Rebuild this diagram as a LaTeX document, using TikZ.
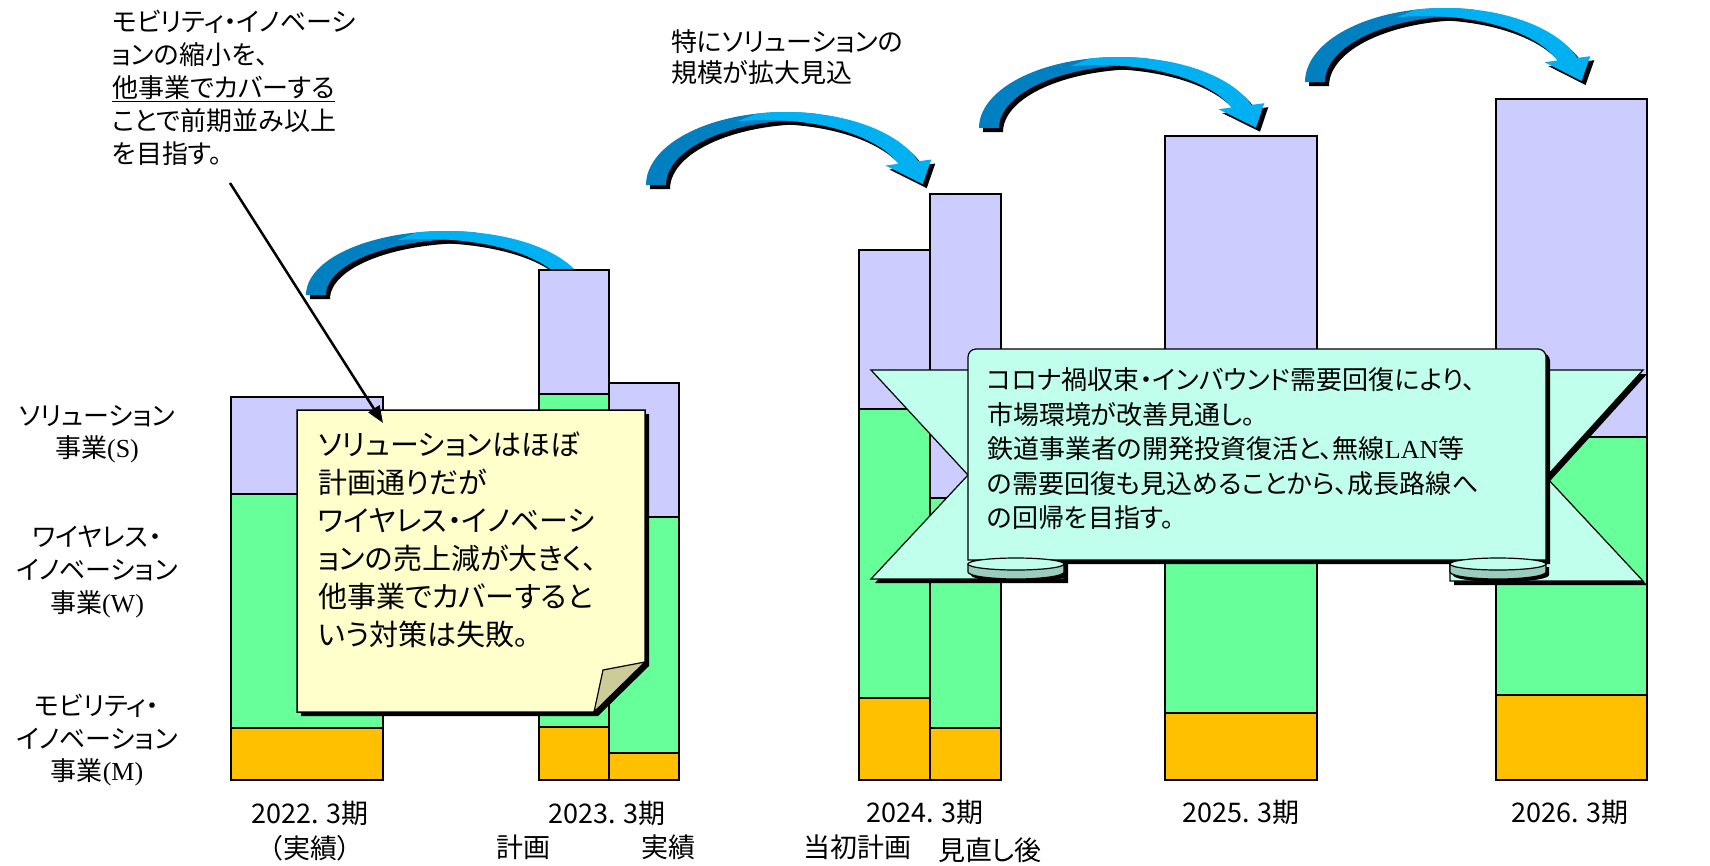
\documentclass[tikz,border=0pt]{standalone}
\usepackage{fontspec}
\setmainfont{Noto Sans CJK JP}[RawFeature={+palt}]
\newfontfamily\serifL{Liberation Serif}
\usetikzlibrary{arrows.meta}
\definecolor{colS}{HTML}{CCCCFF}
\definecolor{colW}{HTML}{66FF99}
\definecolor{colM}{HTML}{FFC000}
\definecolor{noteY}{HTML}{FFFFCC}
\definecolor{foldC}{HTML}{CCCC99}
\definecolor{ribC}{HTML}{BFFFEB}
\definecolor{curlC}{HTML}{9BCDBE}
\definecolor{arrL}{HTML}{00B0F0}
\definecolor{arrD}{HTML}{0080C0}

\newcommand{\stackbar}[6]{%
 \filldraw[barline,fill=colS] (#1,#3) rectangle (#2,#4);
 \filldraw[barline,fill=colW] (#1,#4) rectangle (#2,#5);
 \filldraw[barline,fill=colM] (#1,#5) rectangle (#2,#6);}

\newcommand{\cbshape}[2]{%
 \fill[#1] plot[domain=180:78,samples=40] ({\cbCx+\cbRx*cos(\x)},{\cbCy-\cbRy*sin(\x)})
   -- plot[domain=78:180,samples=40] ({\cbCx+\cbW+\cbRx*cos(\x)},{\cbCy-(\cbRy-8)*sin(\x)}) -- cycle;
 \fill[#2] plot[domain=102:\cbTe,samples=40] ({\cbCx+\cbRx*cos(\x)},{\cbCy-\cbRy*sin(\x)})
   -- (\cbAx,\cbAy) -- (\cbPx,\cbPy) -- (\cbBx,\cbBy) -- (\cbIx,\cbIy)
   -- plot[domain=\cbTe:102,samples=40] ({\cbCx-\cbW+\cbRx*cos(\x)},{\cbCy-(\cbRy-8)*sin(\x)}) -- cycle;}

\newcommand{\curvedblue}[4]{%
 \pgfmathsetmacro\cbCx{#1}%
 \pgfmathsetmacro\cbCy{#2}%
 \pgfmathsetmacro\cbRy{#3}%
 \pgfmathsetmacro\cbTe{#4}%
 \def\cbRx{140}\def\cbW{20}%
 \pgfmathsetmacro\cbOx{\cbCx+\cbRx*cos(\cbTe)}%
 \pgfmathsetmacro\cbOy{\cbCy-\cbRy*sin(\cbTe)}%
 \pgfmathsetmacro\cbIx{\cbCx-\cbW+\cbRx*cos(\cbTe)}%
 \pgfmathsetmacro\cbIy{\cbCy-(\cbRy-8)*sin(\cbTe)}%
 \pgfmathsetmacro\cbMx{(\cbOx+\cbIx)/2}%
 \pgfmathsetmacro\cbMy{(\cbOy+\cbIy)/2}%
 \pgfmathsetmacro\cbTx{\cbRx*sin(\cbTe)}%
 \pgfmathsetmacro\cbTy{\cbRy*cos(\cbTe)}%
 \pgfmathsetmacro\cbTn{sqrt(\cbTx*\cbTx+\cbTy*\cbTy)}%
 \pgfmathsetmacro\cbPx{\cbMx+26*\cbTx/\cbTn}%
 \pgfmathsetmacro\cbPy{\cbMy+26*\cbTy/\cbTn}%
 \pgfmathsetmacro\cbDx{\cbOx-\cbIx}%
 \pgfmathsetmacro\cbDy{\cbOy-\cbIy}%
 \pgfmathsetmacro\cbDn{sqrt(\cbDx*\cbDx+\cbDy*\cbDy)}%
 \pgfmathsetmacro\cbAx{\cbOx+13*\cbDx/\cbDn}%
 \pgfmathsetmacro\cbAy{\cbOy+13*\cbDy/\cbDn}%
 \pgfmathsetmacro\cbBx{\cbIx-13*\cbDx/\cbDn}%
 \pgfmathsetmacro\cbBy{\cbIy-13*\cbDy/\cbDn}%
 \cbshape{black,shift={(4,4)}}{black,shift={(4,4)}}%
 \cbshape{arrD}{arrL}}

\begin{document}
\begin{tikzpicture}[x=1pt,y=-1pt,
  barline/.style={draw=black,line width=1.5pt},
  outl/.style={draw=black,line width=1.5pt},
  txt/.style={inner sep=0pt,outer sep=0pt,text=black}]
\fill[white] (0,0) rectangle (1710,865);
\useasboundingbox (0,0) rectangle (1710,865);

% curved arrows (behind bars)
\curvedblue{446}{295}{64}{18}
\curvedblue{786}{185}{73}{19}
\curvedblue{1119}{128}{71}{19}
\curvedblue{1445}{82}{74}{19}

% bars
\stackbar{231}{383}{397}{494}{728}{780}
\stackbar{539}{609}{270}{394}{727}{780}
\stackbar{609}{679}{383}{517}{753}{780}
\stackbar{859}{930}{250}{409}{698}{780}
\stackbar{930}{1001}{194}{498}{728}{780}
\stackbar{1165}{1317}{136}{450}{713}{780}
\stackbar{1496}{1647}{99}{437}{695}{780}

% sticky note
\fill[black,shift={(4,4)}] (297,410) -- (645,410) -- (645,662) -- (594,712) -- (297,712) -- cycle;
\filldraw[outl,fill=noteY] (297,410) -- (645,410) -- (645,662) -- (594,712) -- (297,712) -- cycle;
\filldraw[outl,line width=1.2pt,fill=foldC] (594,712) -- (603,670) -- (645,662) -- cycle;
\node[txt,anchor=west,align=left,font=\fontsize{29}{38}\selectfont] (noteT) at (318,540)
 {ソリューションはほぼ\\計画通りだが\\ワイヤレス・イノベーシ\\ョンの売上減が大きく、\\他事業でカバーすると\\いう対策は失敗。};

% top-left annotation and leader
\node[txt,anchor=west,align=left,font=\fontsize{26}{33}\selectfont] (annoL) at (112,88)
 {モビリティ・イノベーシ\\ョンの縮小を、\\\underline{他事業でカバーする}\\ことで前期並み以上\\を目指す。};
\coordinate (lstart) at (230,183);
\coordinate (ltip) at (383,423);
\draw[line width=2.5pt,-{Triangle[length=17pt,width=13pt]}] (lstart) -- (ltip);

% ribbon
\fill[black,shift={(4,4)}] (871,370) -- (1064,370) -- (1064,579) -- (871,579) -- (968,475) -- cycle;
\fill[black,shift={(4,4)}] (1643,370) -- (1450,370) -- (1450,581) -- (1643,581) -- (1546,477) -- cycle;
\filldraw[draw=black,line width=1.2pt,fill=ribC] (871,370) -- (1064,370) -- (1064,579) -- (871,579) -- (968,475) -- cycle;
\filldraw[draw=black,line width=1.2pt,fill=ribC] (1643,370) -- (1450,370) -- (1450,581) -- (1643,581) -- (1546,477) -- cycle;
\fill[black,shift={(4,4)}] (968,560) [rounded corners=8]-- (968,349) -- (1546,349) [sharp corners]-- (1546,560) -- cycle;
\filldraw[draw=black,line width=1.2pt,fill=ribC] (968,560) [rounded corners=8]-- (968,349) -- (1546,349) [sharp corners]-- (1546,560) -- cycle;
% curls
\fill[black,shift={(3,3)}] (968,564) -- (968,572) arc[start angle=180,end angle=0,x radius=48,y radius=7] -- (1064,564) -- cycle;
\filldraw[draw=black,line width=1.2pt,fill=curlC] (968,564) -- (968,572) arc[start angle=180,end angle=0,x radius=48,y radius=7] -- (1064,564) -- cycle;
\filldraw[draw=black,line width=1.2pt,fill=ribC] (1016,564) ellipse[x radius=48,y radius=6];
\fill[black,shift={(3,3)}] (1450,564) -- (1450,572) arc[start angle=180,end angle=0,x radius=48,y radius=7] -- (1546,564) -- cycle;
\filldraw[draw=black,line width=1.2pt,fill=curlC] (1450,564) -- (1450,572) arc[start angle=180,end angle=0,x radius=48,y radius=7] -- (1546,564) -- cycle;
\filldraw[draw=black,line width=1.2pt,fill=ribC] (1498,564) ellipse[x radius=48,y radius=6];
\node[txt,anchor=west,align=left,font=\fontsize{26}{34.5}\selectfont] (ribT) at (987,449)
 {コロナ禍収束・インバウンド需要回復により、\\市場環境が改善見通し。\\鉄道事業者の開発投資復活と、無線{\serifL LAN}等\\の需要回復も見込めることから、成長路線へ\\の回帰を目指す。};

% annotation top
\node[txt,anchor=west,align=left,font=\fontsize{26}{31}\selectfont] (annoT) at (671,57.5)
 {特にソリューションの\\規模が拡大見込};

% left legend labels
\node[txt,align=center,font=\fontsize{26}{32}\selectfont] (labS) at (97,434) {ソリューション\\事業{\serifL (S)}};
\node[txt,align=center,font=\fontsize{26}{33}\selectfont] (labW) at (97,572) {ワイヤレス・\\イノベーション\\事業{\serifL (W)}};
\node[txt,align=center,font=\fontsize{26}{32.5}\selectfont] (labM) at (97,740.5) {モビリティ・\\イノベーション\\事業{\serifL (M)}};

% year labels
\begin{scope}[every node/.style={txt,font=\fontsize{27}{27}\selectfont}]
\node (y22) at (310,813) {2022. 3期};
\node (y22b) at (310,848) {（実績）};
\node (y23) at (607,813) {2023. 3期};
\node (y23a) at (523,847) {計画};
\node (y23b) at (668,847) {実績};
\node (y24) at (925,812) {2024. 3期};
\node (y24a) at (857,847) {当初計画};
\node (y24b) at (990,850) {見直し後};
\node (y25) at (1241,812) {2025. 3期};
\node (y26) at (1570,812) {2026. 3期};
\end{scope}
\end{tikzpicture}
\end{document}
